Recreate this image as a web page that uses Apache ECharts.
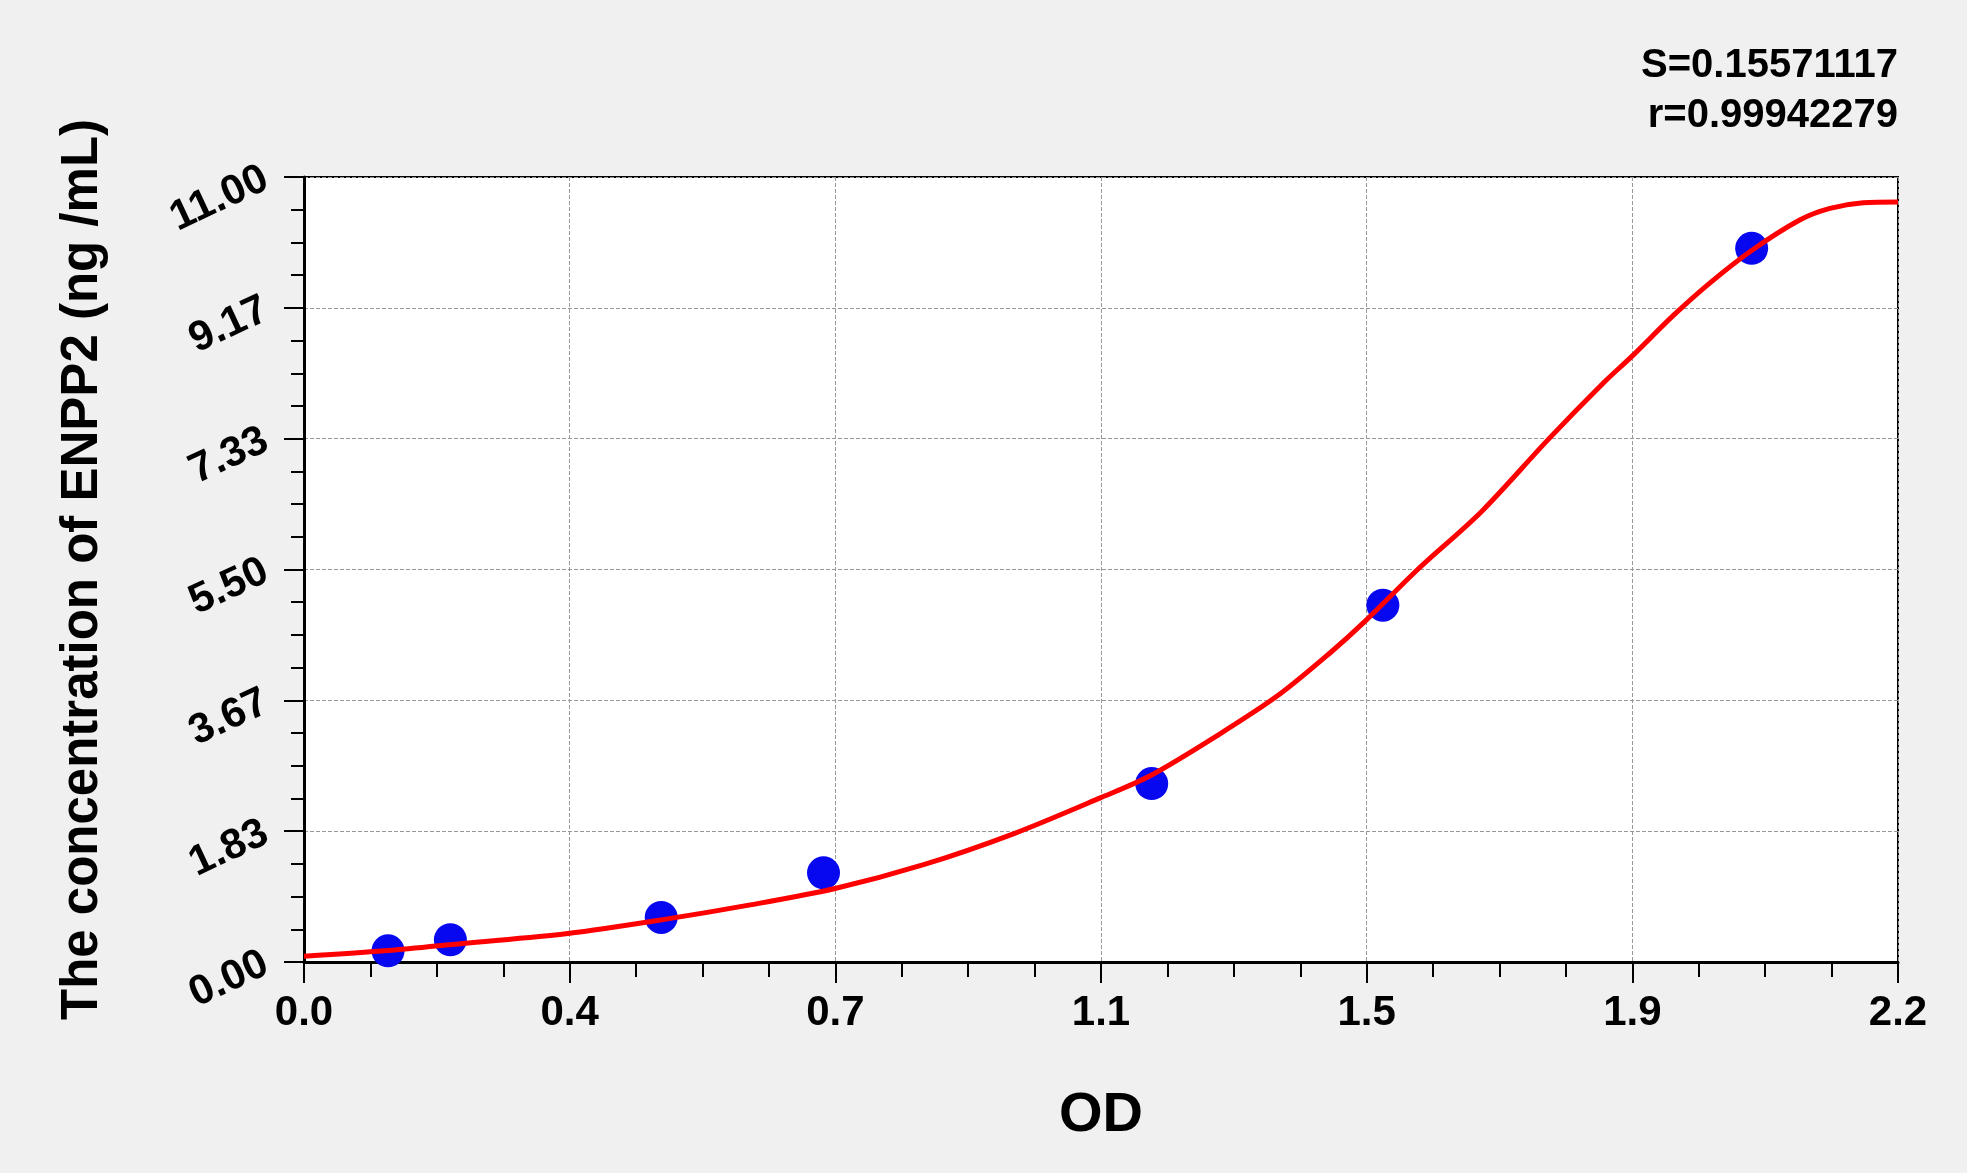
<!DOCTYPE html>
<html>
<head>
<meta charset="utf-8">
<script src="https://cdn.jsdelivr.net/npm/echarts@6/dist/echarts.min.js"></script>
<style>
html, body { margin: 0; padding: 0; background: #f0f0f0; }
#main { width: 1967px; height: 1173px; }
</style>
</head>
<body>
<div id="main"></div>
<script>
// standard points (OD, concentration)
var stdOD = [0.116, 0.202, 0.493, 0.717, 1.170, 1.489, 1.998];
var stdConc = [0.156, 0.312, 0.625, 1.25, 2.5, 5, 10];

// fitted curve
var curveOD = [0, 0.116, 0.219, 0.364, 0.493, 0.616, 0.733, 0.854, 0.980, 1.099, 1.168,
    1.260, 1.345, 1.416, 1.465, 1.536, 1.625, 1.718, 1.793, 1.833, 1.890, 1.941, 1.998,
    2.065, 2.106, 2.152, 2.2];
var curveConc = [0.08, 0.16, 0.26, 0.40, 0.59, 0.80, 1.03, 1.36, 1.80, 2.30, 2.61,
    3.17, 3.74, 4.33, 4.78, 5.49, 6.31, 7.33, 8.11, 8.49, 9.06, 9.52, 9.97,
    10.40, 10.56, 10.64, 10.65];

// tick labels as printed
var xTickLabels = ['0.0', '0.4', '0.7', '1.1', '1.5', '1.9', '2.2'];
var yTickLabels = ['0.00', '1.83', '3.67', '5.50', '7.33', '9.17', '11.00'];

var fitStats = ['S=0.15571117', 'r=0.99942279'];

var xMax = 2.2, yMax = 11;
var xStep = xMax / 6, yStep = yMax / 6;

var font = "'Liberation Sans', Arial, sans-serif";

var myChart = echarts.init(document.getElementById('main'));

var option = {
    backgroundColor: '#f0f0f0',
    animation: false,
    textStyle: { fontFamily: font },
    graphic: [
        {
            type: 'text', right: 69, top: 46,
            style: { text: fitStats[0], font: 'bold 40px ' + font, fill: '#000' }
        },
        {
            type: 'text', right: 69, top: 96,
            style: { text: fitStats[1], font: 'bold 40px ' + font, fill: '#000' }
        }
    ],
    grid: {
        left: 304, right: 69, top: 177, bottom: 211,
        show: true, backgroundColor: '#fff', borderColor: '#000', borderWidth: 2
    },
    xAxis: {
        type: 'value', min: 0, max: xMax, interval: xStep,
        name: 'OD', nameLocation: 'middle', nameGap: 126,
        nameTextStyle: { fontSize: 56, fontWeight: 'bold', color: '#000', fontFamily: font },
        axisLine: { lineStyle: { color: '#000', width: 3 } },
        axisTick: { inside: false, length: 21, lineStyle: { color: '#000', width: 2 } },
        minorTick: { show: true, splitNumber: 4, length: 15, lineStyle: { color: '#000', width: 2 } },
        axisLabel: {
            margin: 30, fontSize: 42, fontWeight: 'bold', color: '#000', fontFamily: font,
            formatter: function (v) { return xTickLabels[Math.round(v / xStep)]; }
        },
        splitLine: { show: true, lineStyle: { color: '#999', type: 'dashed', width: 1 } }
    },
    yAxis: {
        type: 'value', min: 0, max: yMax, interval: yStep,
        name: 'The concentration of ENPP2 (ng /mL)', nameLocation: 'middle', nameGap: 196,
        nameRotate: 90,
        nameTextStyle: { fontSize: 51, fontWeight: 'bold', color: '#000', fontFamily: font },
        axisLine: { lineStyle: { color: '#000', width: 3 } },
        axisTick: { inside: false, length: 20, lineStyle: { color: '#000', width: 2 } },
        minorTick: { show: true, splitNumber: 4, length: 13, lineStyle: { color: '#000', width: 2 } },
        axisLabel: {
            margin: 38, rotate: 25, fontSize: 42, fontWeight: 'bold', color: '#000', fontFamily: font,
            formatter: function (v) { return yTickLabels[Math.round(v / yStep)]; }
        },
        splitLine: { show: true, lineStyle: { color: '#999', type: 'dashed', width: 1 } }
    },
    series: [
        {
            type: 'scatter', z: 1,
            symbolSize: 33,
            itemStyle: { color: '#0808f0', opacity: 1 },
            data: stdOD.map(function (x, i) { return [x, stdConc[i]]; })
        },
        {
            type: 'line', z: 2, smooth: 0.3, showSymbol: false,
            lineStyle: { color: '#ff0000', width: 5 },
            data: curveOD.map(function (x, i) { return [x, curveConc[i]]; })
        }
    ]
};

myChart.setOption(option);
</script>
</body>
</html>
